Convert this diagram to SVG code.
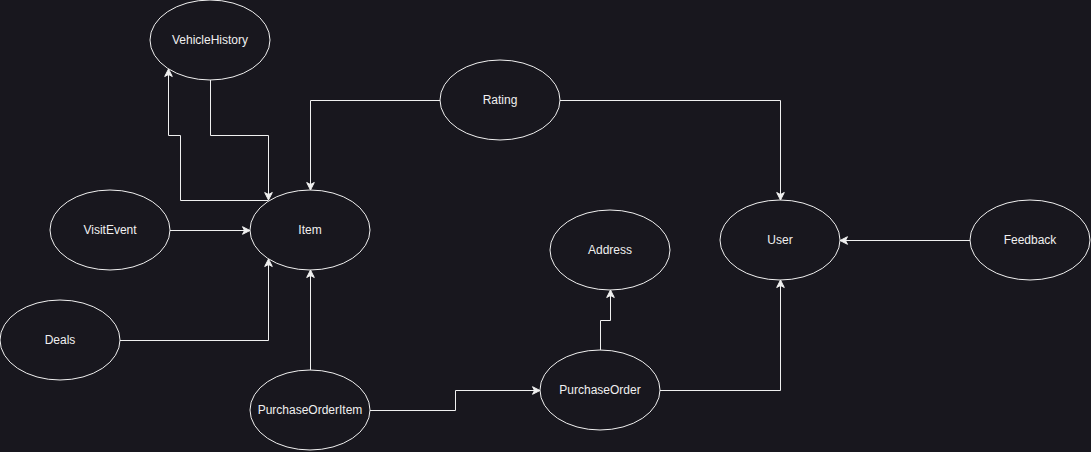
<svg xmlns="http://www.w3.org/2000/svg" width="1091" height="452" viewBox="0 0 1091 452">
<defs>
<style>
.n ellipse{fill:#18171e;stroke:#f0f0f0;stroke-width:1}
.n text{font-family:"Liberation Sans",Arial,sans-serif;font-size:12px;fill:#f0f0f0;text-anchor:middle;dominant-baseline:central}
.e path{fill:none;stroke:#f0f0f0;stroke-width:1;marker-end:url(#arr)}
</style>
<marker id="arr" markerUnits="userSpaceOnUse" markerWidth="12" markerHeight="12" refX="9" refY="5" orient="auto" viewBox="0 0 12 10">
<path d="M9,5 L1.5,1.2 L3.5,5 L1.5,8.8 Z" fill="#f0f0f0" stroke="#f0f0f0" stroke-width="1"/>
</marker>
</defs>
<rect width="1091" height="452" fill="#18171e"/>
<g id="connectors" class="e">
<path d="M210.5,80 V135.5 H268.5 V200"/>
<path d="M268.5,200.5 H180.5 V135.5 H168.5 V69"/>
<path d="M440,100.5 H310.5 V190"/>
<path d="M560,100.5 H780.5 V200"/>
<path d="M170,230.5 H250"/>
<path d="M120,340.5 H268.5 V259"/>
<path d="M310.5,370 V270"/>
<path d="M370,410.5 H455.5 V390.5 H540"/>
<path d="M600.5,350 V320.5 H610.5 V290"/>
<path d="M660,390.5 H780.5 V280"/>
<path d="M970,240.5 H840"/>
</g>
<g id="VehicleHistory" class="n"><ellipse cx="210" cy="40" rx="60" ry="40"/><text x="210" y="40">VehicleHistory</text></g>
<g id="Rating" class="n"><ellipse cx="500" cy="100" rx="60" ry="40"/><text x="500" y="100">Rating</text></g>
<g id="VisitEvent" class="n"><ellipse cx="110" cy="230" rx="60" ry="40"/><text x="110" y="230">VisitEvent</text></g>
<g id="Item" class="n"><ellipse cx="310" cy="230" rx="60" ry="40"/><text x="310" y="230">Item</text></g>
<g id="Address" class="n"><ellipse cx="610" cy="250" rx="60" ry="40"/><text x="610" y="250">Address</text></g>
<g id="User" class="n"><ellipse cx="780" cy="240" rx="60" ry="40"/><text x="780" y="240">User</text></g>
<g id="Feedback" class="n"><ellipse cx="1030" cy="240" rx="60" ry="40"/><text x="1030" y="240">Feedback</text></g>
<g id="Deals" class="n"><ellipse cx="60" cy="340" rx="60" ry="40"/><text x="60" y="340">Deals</text></g>
<g id="PurchaseOrderItem" class="n"><ellipse cx="310" cy="410" rx="60" ry="40"/><text x="310" y="410">PurchaseOrderItem</text></g>
<g id="PurchaseOrder" class="n"><ellipse cx="600" cy="390" rx="60" ry="40"/><text x="600" y="390">PurchaseOrder</text></g>
</svg>
